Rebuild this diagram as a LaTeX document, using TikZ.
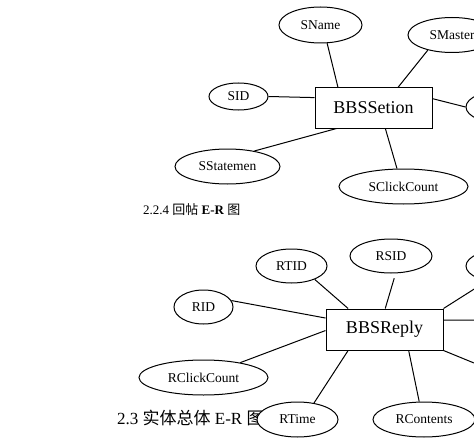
\documentclass[tikz,border=0pt]{standalone}
\usepackage{fontspec}
\setmainfont{Liberation Serif}
\newfontfamily\cjk{Noto Sans CJK SC}
\usetikzlibrary{shapes.geometric}
\tikzset{
  attr/.style={ellipse, draw, fill=white, inner sep=0pt, line width=1pt,
    font=\fontsize{13.5}{15}\selectfont},
  entity/.style={rectangle, draw, fill=white, inner sep=0pt, line width=1pt,
    minimum width=117pt, font=\fontsize{18}{20}\selectfont},
  caption/.style={anchor=west, inner sep=0pt}
}
\begin{document}
\begin{tikzpicture}[x=1pt, y=-1pt]
      \useasboundingbox (0,0) rectangle (474,444);
      \clip (0,0) rectangle (474,444);
      % captions
      \node[caption, font=\fontsize{13}{15}\selectfont] (cap1) at (143,210)
        {2.2.4 {\cjk 回帖} \textbf{E-R} {\cjk 图}};
      \node[caption, font=\fontsize{17}{19}\selectfont] (cap2) at (117,418)
        {2.3 {\cjk 实体总体} E-R {\cjk 图}};
      % BBSSetion
      \draw
        (373.5,108) node[entity, minimum height=40pt] (set){BBSSetion}
        (320.5,25) node[attr, minimum width=83pt, minimum height=36pt] (sname){SName}
        (452,35) node[attr, minimum width=88pt, minimum height=35pt] (smaster){SMaster}
        (238.5,96.5) node[attr, minimum width=59pt, minimum height=27pt] (sid){SID}
        (506,107) node[attr, minimum width=80pt, minimum height=34pt] (sright){}
        (227.5,166.5) node[attr, minimum width=105pt, minimum height=35pt] (sstate){SStatemen}
        (403.5,186.5) node[attr, minimum width=129pt, minimum height=35pt] (sclick){SClickCount};
      % BBSReply
      \draw
        (384.5,329.5) node[entity, minimum height=41pt] (reply){BBSReply}
        (203.5,307) node[attr, minimum width=59pt, minimum height=34pt] (rid){RID}
        (291.5,266) node[attr, minimum width=71pt, minimum height=34pt] (rtid){RTID}
        (391,256) node[attr, minimum width=82pt, minimum height=34pt] (rsid){RSID}
        (506,266) node[attr, minimum width=80pt, minimum height=34pt] (rright){}
        (203.5,377.5) node[attr, minimum width=129pt, minimum height=35pt] (rclick){RClickCount}
        (297.5,419.5) node[attr, minimum width=81pt, minimum height=35pt] (rtime){RTime}
        (424,419.5) node[attr, minimum width=102pt, minimum height=35pt] (rcont){RContents};
      \coordinate (rmid) at (474,320);
      \coordinate (rlow) at (474,363);
      \begin{scope}[-, line width=1pt]
        \draw (sname.-70) to (set.150.6);
        \draw (smaster.212) to (set.40.4);
        \draw (sid.0) to (set.170.3);
        \draw (sright.180) to (set.9.7);
        \draw (sstate.30.7) to (set.209.4);
        \draw (sclick.110.4) to (set.-60.1);
        \draw (rid.13.3) to (reply.169.8);
        \draw (rtid.-30.8) to (reply.150);
        \draw[shorten <=5pt] (rsid.-75) to (reply.88.6);
        \draw (rright.218) to (reply.north east);
        \draw (rmid) to (reply.9.2);
        \draw (rlow) to (reply.south east);
        \draw (rclick.22.9) to (reply.181.5);
        \draw (rtime.45) to (reply.210.7);
        \draw (rcont.105) to (reply.-41.1);
      \end{scope}
    \end{tikzpicture}
\end{document}
